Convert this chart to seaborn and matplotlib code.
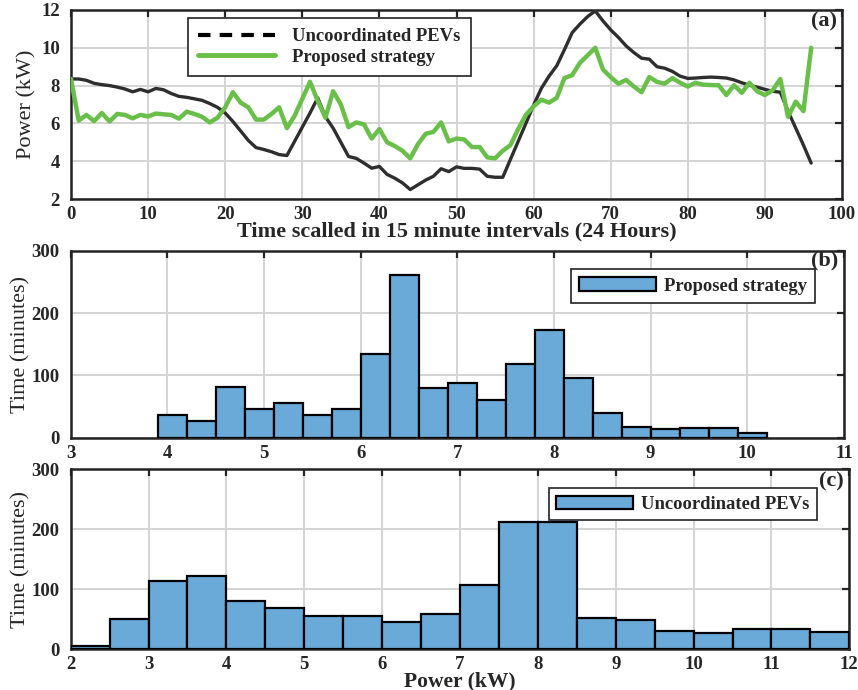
import numpy as np
import pandas as pd
import matplotlib
matplotlib.use("Agg")
import matplotlib.pyplot as plt
from matplotlib.lines import Line2D
import seaborn as sns

# ---- panel (a): power profile over 96 intervals ----
time_idx = list(range(97))
uncoordinated_kw = [
    8.35, 8.35, 8.28, 8.12, 8.05, 8.00, 7.92, 7.82, 7.67, 7.80,
    7.67, 7.85, 7.78, 7.58, 7.43, 7.38, 7.30, 7.22, 7.05, 6.85,
    6.55, 6.10, 5.60, 5.10, 4.72, 4.62, 4.50, 4.35, 4.30, 5.05,
    5.80, 6.55, 7.35, 6.35, 5.75, 5.00, 4.25, 4.15, 3.90, 3.63,
    3.72, 3.30, 3.10, 2.85, 2.50, 2.75, 3.00, 3.20, 3.60, 3.45,
    3.70, 3.62, 3.62, 3.58, 3.20, 3.15, 3.15, 4.10, 5.05, 6.00,
    6.97, 7.85, 8.50, 9.05, 9.90, 10.80, 11.25, 11.65, 11.95, 11.42,
    10.95, 10.55, 10.10, 9.75, 9.45, 9.40, 9.00, 8.92, 8.75, 8.50,
    8.38, 8.40, 8.43, 8.45, 8.43, 8.40, 8.30, 8.15, 8.02, 7.92,
    7.80, 7.70, 7.65, 6.65, 5.75, 4.85, 3.90,
]
proposed_kw = [
    8.35, 6.15, 6.45, 6.12, 6.55, 6.10, 6.50, 6.45, 6.27, 6.45,
    6.37, 6.52, 6.48, 6.45, 6.25, 6.62, 6.50, 6.35, 6.05, 6.30,
    6.85, 7.65, 7.10, 6.85, 6.20, 6.20, 6.50, 6.85, 5.75, 6.40,
    7.30, 8.20, 7.20, 6.30, 7.70, 7.00, 5.80, 6.05, 5.95, 5.20,
    5.70, 5.00, 4.80, 4.55, 4.15, 4.90, 5.45, 5.55, 6.05, 5.05,
    5.20, 5.15, 4.75, 4.75, 4.20, 4.15, 4.55, 4.85, 5.70, 6.45,
    6.90, 7.25, 7.10, 7.35, 8.40, 8.55, 9.20, 9.60, 10.00, 8.85,
    8.45, 8.10, 8.30, 7.95, 7.65, 8.45, 8.20, 8.10, 8.40, 8.15,
    7.95, 8.15, 8.05, 8.03, 8.02, 7.50, 8.02, 7.62, 8.15, 7.70,
    7.50, 7.75, 8.35, 6.35, 7.15, 6.65, 10.00,
]

# ---- panel (b): histogram of proposed strategy ----
prop_bin_start, prop_bin_width = 3.9, 0.3
prop_counts = [37, 26, 82, 46, 55, 37, 46, 135, 261, 79, 87,
               60, 119, 173, 95, 39, 17, 14, 16, 15, 7]

# ---- panel (c): histogram of uncoordinated PEVs ----
unc_bin_start, unc_bin_width = 2.0, 0.5
unc_counts = [5, 50, 114, 121, 80, 69, 55, 55, 45, 58,
              107, 212, 212, 52, 48, 30, 26, 33, 33, 28]

sns.set_style("white")
plt.rcParams['font.family'] = ['Liberation Serif', 'DejaVu Serif']
plt.rcParams['font.weight'] = 'bold'
plt.rcParams['axes.labelweight'] = 'bold'

TICK_FS = 13.5
LEG_FS = 13.4
YLAB_FS = 16
GREEN = '#6abf4b'
DARK = '#2e2e2e'
BAR = '#6aaad8'
GRID = '#d4d4d4'

fig = plt.figure(figsize=(8.58, 6.9), dpi=100)
ax_a = fig.add_axes([71 / 858, 1 - 199 / 690, 771 / 858, 189 / 690])
ax_b = fig.add_axes([70.7 / 858, 1 - 437.7 / 690, 773.3 / 858, 187 / 690])
ax_c = fig.add_axes([70.7 / 858, 1 - 649 / 690, 778.6 / 858, 180 / 690])


def style_axes(ax):
    ax.grid(True, color=GRID, lw=1.4, zorder=0)
    ax.set_axisbelow(True)
    ax.tick_params(direction='in', top=True, right=True, length=5, width=1.6,
                   labelsize=TICK_FS)
    ax.tick_params(axis='y', pad=8)
    ax.tick_params(axis='x', pad=5)
    for lab in ax.get_xticklabels() + ax.get_yticklabels():
        lab.set_fontweight('bold')
    for sp in ax.spines.values():
        sp.set_color('#222222')
        sp.set_linewidth(1.8)


def hist_frame(start, width, counts):
    edges = start + width * np.arange(len(counts) + 1)
    centers = (edges[:-1] + edges[1:]) / 2
    return pd.DataFrame({'power': centers, 'minutes': counts}), edges.tolist()


def add_legend(ax, anchor, **kw):
    leg = ax.legend(loc='upper left', bbox_to_anchor=anchor, borderaxespad=0,
                    fancybox=False, framealpha=1, edgecolor='#222222',
                    prop={'size': LEG_FS, 'weight': 'bold'}, **kw)
    leg.get_frame().set_linewidth(1.2)
    return leg


# (a) lines
sns.lineplot(x=time_idx, y=uncoordinated_kw, ax=ax_a, color=DARK, lw=2.4, zorder=3)
sns.lineplot(x=time_idx, y=proposed_kw, ax=ax_a, color=GREEN, lw=3.2, zorder=4)
ax_a.set_xlim(0, 100)
ax_a.set_ylim(2, 12)
ax_a.set_xticks(range(0, 101, 10))
ax_a.set_yticks(range(2, 13, 2))
style_axes(ax_a)
ax_a.set_xlabel('Time scalled in 15 minute intervals (24 Hours)', fontsize=16,
                fontweight='bold', labelpad=-1)
ax_a.set_ylabel('Power (kW)', fontsize=YLAB_FS, fontweight='normal', labelpad=3)
handles = [Line2D([0], [0], color='black', lw=3, ls=(0, (3, 2.2))),
           Line2D([0], [0], color=GREEN, lw=3.5)]
add_legend(ax_a, (0.152, 0.958), handles=handles,
           labels=['Uncoordinated PEVs', 'Proposed strategy'],
           handlelength=4.1, handletextpad=0.95, labelspacing=0.2, borderpad=0.55)
ax_a.text(0.993, 0.99, '(a)', transform=ax_a.transAxes, ha='right', va='top',
          fontsize=16, fontweight='bold')

# (b) histogram
df_b, edges_b = hist_frame(prop_bin_start, prop_bin_width, prop_counts)
sns.histplot(data=df_b, x='power', weights='minutes', bins=edges_b, ax=ax_b,
             color=BAR, alpha=1, edgecolor='black', linewidth=1.6,
             label='Proposed strategy', zorder=3)
ax_b.set_xlim(3, 11)
ax_b.set_ylim(0, 300)
ax_b.set_xticks(range(3, 12))
ax_b.set_yticks(range(0, 301, 100))
style_axes(ax_b)
ax_b.set_xlabel('')
ax_b.set_ylabel('Time (minutes)', fontsize=YLAB_FS, fontweight='normal', labelpad=0.5)
add_legend(ax_b, (0.647, 0.902), handlelength=4.1, handleheight=0.75,
           handletextpad=0.45, borderpad=0.45)
ax_b.text(0.993, 1.0, '(b)', transform=ax_b.transAxes, ha='right', va='top',
          fontsize=16, fontweight='bold')

# (c) histogram
df_c, edges_c = hist_frame(unc_bin_start, unc_bin_width, unc_counts)
sns.histplot(data=df_c, x='power', weights='minutes', bins=edges_c, ax=ax_c,
             color=BAR, alpha=1, edgecolor='black', linewidth=1.6,
             label='Uncoordinated PEVs', zorder=3)
ax_c.set_xlim(2, 12)
ax_c.set_ylim(0, 300)
ax_c.set_xticks(range(2, 13))
ax_c.set_yticks(range(0, 301, 100))
style_axes(ax_c)
ax_c.set_xlabel('Power (kW)', fontsize=15.5, fontweight='bold', labelpad=-1)
ax_c.set_ylabel('Time (minutes)', fontsize=YLAB_FS, fontweight='normal', labelpad=0.5)
add_legend(ax_c, (0.614, 0.894), handlelength=4.1, handleheight=0.75,
           handletextpad=0.45, borderpad=0.4)
ax_c.text(0.993, 0.985, '(c)', transform=ax_c.transAxes, ha='right', va='top',
          fontsize=16, fontweight='bold')

fig.savefig('out.png', dpi=100)
